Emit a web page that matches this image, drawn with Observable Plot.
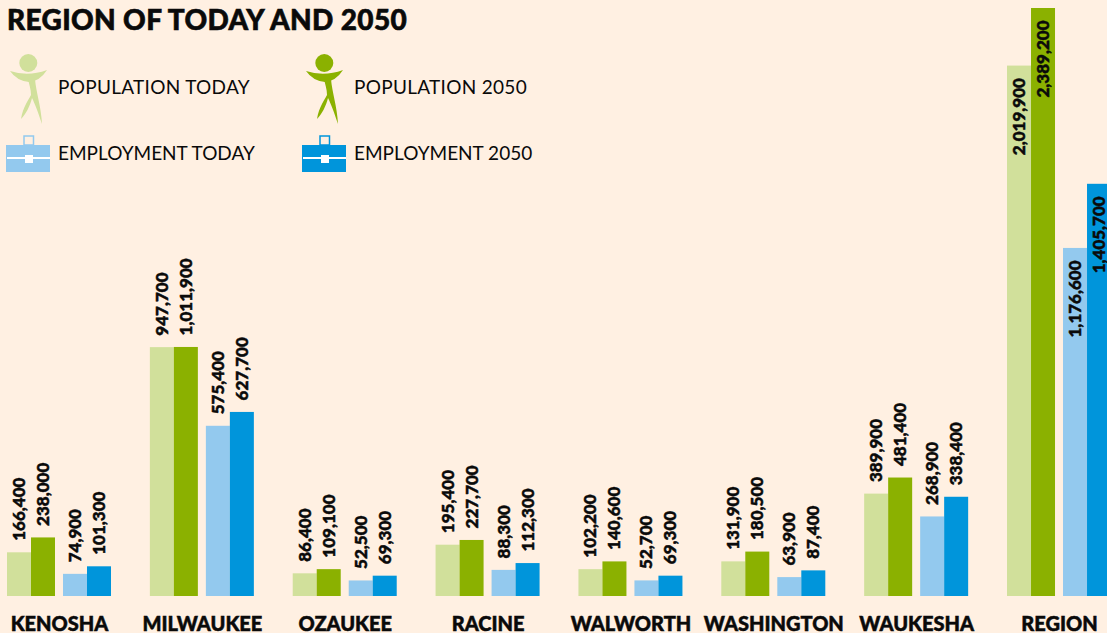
<!DOCTYPE html>
<html>
<head>
<meta charset="utf-8">
<script src="https://cdn.jsdelivr.net/npm/d3@7"></script>
<script src="https://cdn.jsdelivr.net/npm/@observablehq/plot@0.6"></script>
<style>
  html, body { margin: 0; padding: 0; background: #fff0e2; overflow: hidden; }
  #wrap { position: relative; width: 1107px; height: 633px; font-family: Lato, sans-serif; color: #0a0a0a; }
  #title { position: absolute; left: 7px; top: 2px; font-size: 28px; font-weight: 900; line-height: 34px; letter-spacing: 0.35px; white-space: nowrap; -webkit-text-stroke: 0.6px #0a0a0a; }
  .lg { position: absolute; font-size: 19px; font-weight: 400; line-height: 24px; white-space: nowrap; letter-spacing: 0.3px; }
  .emp { letter-spacing: 0; }
  #icons { position: absolute; left: 0; top: 0; }
  #chart svg { display: block; }
  #chart text { stroke: #0a0a0a; stroke-width: 0.5px; }
</style>
</head>
<body>
<div id="wrap">
  <div id="chart"></div>
  <div id="title">REGION OF TODAY AND 2050</div>
  <svg id="icons" width="560" height="180"></svg>
  <div class="lg" style="left:58px;top:75px">POPULATION TODAY</div>
  <div class="lg" style="left:354px;top:75px">POPULATION 2050</div>
  <div class="lg emp" style="left:58px;top:141px">EMPLOYMENT TODAY</div>
  <div class="lg emp" style="left:354px;top:141px">EMPLOYMENT 2050</div>
</div>
<script>
const regions = ["KENOSHA","MILWAUKEE","OZAUKEE","RACINE","WALWORTH","WASHINGTON","WAUKESHA","REGION"];
const populationToday = [166400, 947700, 86400, 195400, 102200, 131900, 389900, 2019900];
const population2050  = [238000, 1011900, 109100, 227700, 140600, 180500, 481400, 2389200];
const employmentToday = [74900, 575400, 52500, 88300, 52700, 63900, 268900, 1176600];
const employment2050  = [101300, 627700, 69300, 112300, 69300, 87400, 338400, 1405700];

// The reference draws each series at its own vertical scale; relative to Population 2050:
const seriesScale = [1.067, 1, 1.202, 1.1915];
const seriesColors = ["#d1e09b", "#8bb100", "#93c9ee", "#0095db"];
const seriesNames = ["Population today", "Population 2050", "Employment today", "Employment 2050"];
const seriesValues = [populationToday, population2050, employmentToday, employment2050];

const barW = 24 / 142.86;
const seriesStart = [0, barW, 2 * barW + 8 / 142.86, 3 * barW + 8 / 142.86];

const rows = seriesValues.flatMap((vals, s) => vals.map((v, g) => ({
  region: regions[g], g, s, value: v,
  series: seriesNames[s],
  x1: g + seriesStart[s],
  x2: g + seriesStart[s] + barW,
  xc: g + seriesStart[s] + barW / 2,
  h: v * seriesScale[s]
})));
const groupCentre = (g) => g + (4 * barW + 8 / 142.86) / 2;
const fmt = d3.format(",");
const inside = rows.filter(d => d.region === "REGION");
const above = rows.filter(d => d.region !== "REGION");
const FONT = "Lato, sans-serif";
const labelStyle = { rotate: -90, fontSize: 17, fontWeight: 900, fill: "#0a0a0a", letterSpacing: "1.5px" };

const plot = Plot.plot({
  width: 1107, height: 633,
  marginTop: 8, marginBottom: 37, marginLeft: 0, marginRight: 0,
  style: { background: "transparent", fontFamily: FONT, overflow: "hidden" },
  x: { domain: [0, 8], range: [7, 7 + 8 * 142.86] },
  y: { domain: [0, 2389200], axis: null },
  color: { domain: seriesNames, range: seriesColors },
  marks: [
    Plot.rectY(rows, { x1: "x1", x2: "x2", y1: 0, y2: "h", fill: "series" }),
    Plot.text(above, { x: "xc", y: "h", text: d => fmt(d.value), textAnchor: "start", dy: -12, ...labelStyle }),
    Plot.text(inside, { x: "xc", y: "h", text: d => fmt(d.value), textAnchor: "end", dy: 12, ...labelStyle }),
    Plot.axisX({
      anchor: "bottom",
      ticks: regions.map((_, g) => groupCentre(g)),
      tickFormat: (t) => regions[Math.round(t - groupCentre(0))],
      tickSize: 0, tickPadding: 20, label: null,
      fontSize: 20, fontWeight: 900, fill: "#0a0a0a", letterSpacing: "0.4px"
    })
  ]
});
document.getElementById("chart").appendChild(plot);

// Legend pictograms
function person(dx, fill) {
  return `<g transform="translate(${dx},0)" fill="${fill}">
    <circle cx="28.3" cy="63" r="9"/>
    <path d="M10 71 Q28 77 47 70 Q40 81 29 82 Q17 81 10 71 Z"/>
    <path d="M28 79 L35 79 C36 92 41 106 42 124 C38 112 35 104 32 98 C30 106 26 114 21 119 C23 107 28 101 31 95 C31 89 29 84 28 79 Z"/>
  </g>`;
}
function briefcase(dx, fill) {
  return `<g transform="translate(${dx},0)">
    <rect x="24" y="136" width="9.5" height="9" fill="none" stroke="${fill}" stroke-width="1.5"/>
    <rect x="6" y="145" width="44" height="27" fill="${fill}"/>
    <rect x="7" y="157" width="43" height="2" fill="#fff"/>
    <rect x="25" y="155" width="8" height="8" fill="#fff"/>
  </g>`;
}
document.getElementById("icons").innerHTML =
  person(0, seriesColors[0]) + person(296, seriesColors[1]) +
  briefcase(0, seriesColors[2]) + briefcase(296, seriesColors[3]);
</script>
</body>
</html>
